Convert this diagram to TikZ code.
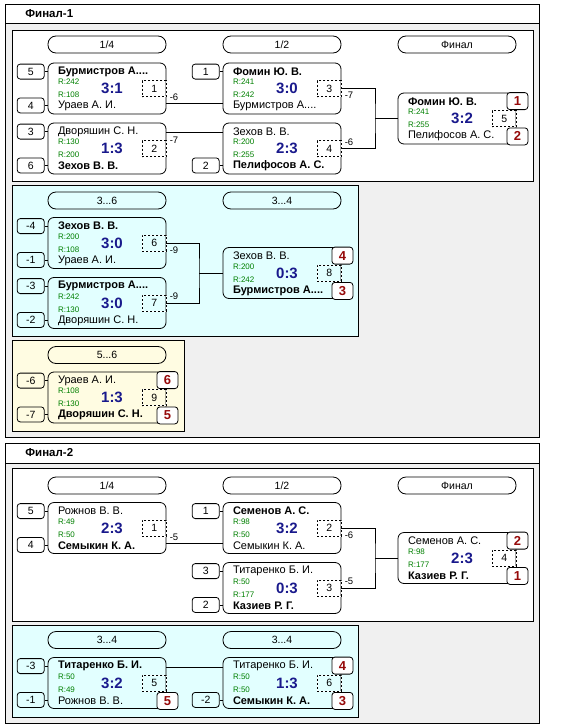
\documentclass[tikz,border=0pt]{standalone}
\usepackage{fontspec}
\setmainfont{Liberation Sans}
\usepackage{tikz}
\usetikzlibrary{positioning,calc}

\definecolor{rgreen}{RGB}{0,128,0}
\definecolor{sblue}{RGB}{25,25,140}
\definecolor{pred}{RGB}{150,10,10}
\definecolor{panelgray}{RGB}{240,240,240}
\definecolor{cyanbg}{RGB}{226,255,255}
\definecolor{yellowbg}{RGB}{255,252,226}

\begin{document}
\begin{tikzpicture}[x=1pt,y=-1pt,line width=0.8pt,every node/.style={inner sep=0pt},
	game/.style={draw,rounded corners=6pt,minimum width=118pt,minimum height=51pt},
	pill/.style={draw,rounded corners=8pt,minimum width=118pt,minimum height=17pt,font=\fontsize{10.5}{12}\selectfont},
	seed/.style={draw,rounded corners=3pt,minimum width=27pt,minimum height=15pt,font=\fontsize{10.5}{12}\selectfont},
	seedup/.style={seed,anchor=east,xshift=-3pt,yshift=-9pt},
	seeddn/.style={seed,anchor=east,xshift=-3pt,yshift=9pt},
	pup/.style={anchor=west,xshift=10pt,yshift=-9pt,font=\fontsize{11}{13}\selectfont},
	pdn/.style={anchor=west,xshift=10pt,yshift=8.5pt,font=\fontsize{11}{13}\selectfont},
	win/.style={font=\fontsize{11}{13}\selectfont\bfseries},
	rup/.style={anchor=west,xshift=10pt,yshift=-19.5pt,text=rgreen,font=\fontsize{8}{9}\selectfont},
	rdn/.style={anchor=west,xshift=10pt,yshift=19.5pt,text=rgreen,font=\fontsize{8}{9}\selectfont},
	sc/.style={xshift=5pt,text=sblue,font=\fontsize{15}{16}\selectfont\bfseries},
	num/.style={draw,dashed,dash pattern=on 2pt off 2pt,preaction={draw=white,solid},minimum width=24pt,minimum height=16pt,xshift=-12pt,font=\fontsize{10.5}{12}\selectfont},
	place/.style={draw,fill=white,rounded corners=3pt,minimum width=21pt,minimum height=17pt,text=pred,font=\fontsize{13}{14}\selectfont\bfseries},
	placeup/.style={place,xshift=1pt,yshift=-8.5pt},
	placedn/.style={place,xshift=1pt,yshift=8pt},
	loss/.style={font=\fontsize{9.5}{11}\selectfont},
	grouptitle/.style={anchor=west,font=\fontsize{11.5}{13}\selectfont\bfseries}]
	
	\fill[white] (0,0) rectangle (566,728);
	\useasboundingbox (0,0) rectangle (566,728);
	
	% Финал-1
	\draw[fill=panelgray] (5,4) rectangle (539,437);
	\draw[fill=white] (5,4) rectangle (539,23);
	\node [grouptitle] (t1) at (25,13.5) {Финал-1};
	\draw[fill=white] (12,30) rectangle (533,181);
	\draw[fill=cyanbg] (12,185) rectangle (358,336);
	\draw[fill=yellowbg] (12,340) rectangle (184,431);
	
	\node [pill] (h1) at (107,44.5) {1/4};
	\node [pill] (h2) at (282,44.5) {1/2};
	\node [pill] (h3) at (457,44.5) {Финал};
	
	\node [game] (1) at (107,88.5) {};
	\node [pup,win] (1a) at (1.north west) {Бурмистров А....};
	\node [rup] (1b) at (1.north west) {R:242};
	\node [rdn] (1c) at (1.south west) {R:108};
	\node [pdn] (1d) at (1.south west) {Ураев А. И.};
	\node [sc] (1e) at (1) {3:1};
	\node [num] (1n) at (1.east) {1};
	\node [seedup] (1s) at (1.north west) {5};
	\node [seeddn] (1t) at (1.south west) {4};
	
	\node [game] (2) at (107,148.5) {};
	\node [pup] (2a) at (2.north west) {Дворяшин С. Н.};
	\node [rup] (2b) at (2.north west) {R:130};
	\node [rdn] (2c) at (2.south west) {R:200};
	\node [pdn,win] (2d) at (2.south west) {Зехов В. В.};
	\node [sc] (2e) at (2) {1:3};
	\node [num] (2n) at (2.east) {2};
	\node [seedup] (2s) at (2.north west) {3};
	\node [seeddn] (2t) at (2.south west) {6};
	
	\node [game] (3) at (282,88.5) {};
	\node [pup,win] (3a) at (3.north west) {Фомин Ю. В.};
	\node [rup] (3b) at (3.north west) {R:241};
	\node [rdn] (3c) at (3.south west) {R:242};
	\node [pdn] (3d) at (3.south west) {Бурмистров А....};
	\node [sc] (3e) at (3) {3:0};
	\node [num] (3n) at (3.east) {3};
	\node [seedup] (3s) at (3.north west) {1};
	
	\node [game] (4) at (282,148.5) {};
	\node [pup] (4a) at (4.north west) {Зехов В. В.};
	\node [rup] (4b) at (4.north west) {R:200};
	\node [rdn] (4c) at (4.south west) {R:255};
	\node [pdn,win] (4d) at (4.south west) {Пелифосов А. С.};
	\node [sc] (4e) at (4) {2:3};
	\node [num] (4n) at (4.east) {4};
	\node [seeddn] (4t) at (4.south west) {2};
	
	\node [game] (5) at (457,118.5) {};
	\node [pup,win] (5a) at (5.north west) {Фомин Ю. В.};
	\node [rup] (5b) at (5.north west) {R:241};
	\node [rdn] (5c) at (5.south west) {R:255};
	\node [pdn] (5d) at (5.south west) {Пелифосов А. С.};
	\node [sc] (5e) at (5) {3:2};
	\node [num] (5n) at (5.east) {5};
	\node [placeup] (5u) at (5.north east) {1};
	\node [placedn] (5v) at (5.south east) {2};
	
	\draw (1s) -- (1s -| 1.west);
	\draw (1t) -- (1t -| 1.west);
	\draw (2s) -- (2s -| 2.west);
	\draw (2t) -- (2t -| 2.west);
	\draw (3s) -- (3s -| 3.west);
	\draw (4t) -- (4t -| 4.west);
	
	\draw ([yshift=11pt]1.south east) -- ([yshift=11pt]3.south west);
	\node [loss,anchor=south west] (1l) at ([xshift=3pt,yshift=13pt]1.south east) {-6};
	\draw ([yshift=-10pt]2.north east) -- ([yshift=-10pt]4.north west);
	\node [loss,anchor=north west] (2l) at ([xshift=3pt,yshift=-14pt]2.north east) {-7};
	
	\coordinate (j1) at (375,118.5);
	\draw (3.east) -| (j1) |- (4.east);
	\draw (j1) -- (5.west);
	\node [loss,anchor=north west] (3l) at ([xshift=3pt,yshift=-3pt]3.east) {-7};
	\node [loss,anchor=south west] (4l) at ([xshift=3pt,yshift=3pt]4.east) {-6};
	
	% 3...6
	\node [pill] (h4) at (107,200.5) {3...6};
	\node [pill] (h5) at (282,200.5) {3...4};
	
	\node [game] (6) at (107,243) {};
	\node [pup,win] (6a) at (6.north west) {Зехов В. В.};
	\node [rup] (6b) at (6.north west) {R:200};
	\node [rdn] (6c) at (6.south west) {R:108};
	\node [pdn] (6d) at (6.south west) {Ураев А. И.};
	\node [sc] (6e) at (6) {3:0};
	\node [num] (6n) at (6.east) {6};
	\node [seedup] (6s) at (6.north west) {-4};
	\node [seeddn] (6t) at (6.south west) {-1};
	
	\node [game] (7) at (107,303) {};
	\node [pup,win] (7a) at (7.north west) {Бурмистров А....};
	\node [rup] (7b) at (7.north west) {R:242};
	\node [rdn] (7c) at (7.south west) {R:130};
	\node [pdn] (7d) at (7.south west) {Дворяшин С. Н.};
	\node [sc] (7e) at (7) {3:0};
	\node [num] (7n) at (7.east) {7};
	\node [seedup] (7s) at (7.north west) {-3};
	\node [seeddn] (7t) at (7.south west) {-2};
	
	\node [game] (8) at (282,273) {};
	\node [pup] (8a) at (8.north west) {Зехов В. В.};
	\node [rup] (8b) at (8.north west) {R:200};
	\node [rdn] (8c) at (8.south west) {R:242};
	\node [pdn,win] (8d) at (8.south west) {Бурмистров А....};
	\node [sc] (8e) at (8) {0:3};
	\node [num] (8n) at (8.east) {8};
	\node [placeup] (8u) at (8.north east) {4};
	\node [placedn] (8v) at (8.south east) {3};
	
	\draw (6s) -- (6s -| 6.west);
	\draw (6t) -- (6t -| 6.west);
	\draw (7s) -- (7s -| 7.west);
	\draw (7t) -- (7t -| 7.west);
	
	\coordinate (j2) at (199,273);
	\draw (6.east) -| (j2) |- (7.east);
	\draw (j2) -- (8.west);
	\node [loss,anchor=north west] (6l) at ([xshift=3pt,yshift=-3pt]6.east) {-9};
	\node [loss,anchor=south west] (7l) at ([xshift=3pt,yshift=3pt]7.east) {-9};
	
	% 5...6
	\node [pill] (h6) at (107,355) {5...6};
	
	\node [game] (9) at (107,397.5) {};
	\node [pup] (9a) at (9.north west) {Ураев А. И.};
	\node [rup] (9b) at (9.north west) {R:108};
	\node [rdn] (9c) at (9.south west) {R:130};
	\node [pdn,win] (9d) at (9.south west) {Дворяшин С. Н.};
	\node [sc] (9e) at (9) {1:3};
	\node [num] (9n) at (9.east) {9};
	\node [seedup] (9s) at (9.north west) {-6};
	\node [seeddn] (9t) at (9.south west) {-7};
	\node [placeup] (9u) at (9.north east) {6};
	\node [placedn] (9v) at (9.south east) {5};
	
	\draw (9s) -- (9s -| 9.west);
	\draw (9t) -- (9t -| 9.west);
	
	% Финал-2
	\draw[fill=panelgray] (5,443) rectangle (539,723);
	\draw[fill=white] (5,443) rectangle (539,463);
	\node [grouptitle] (t2) at (25,453) {Финал-2};
	\draw[fill=white] (12,468) rectangle (533,621);
	\draw[fill=cyanbg] (12,625) rectangle (358,717);
	
	\node [pill] (h7) at (107,485.5) {1/4};
	\node [pill] (h8) at (282,485.5) {1/2};
	\node [pill] (h9) at (457,485.5) {Финал};
	
	\node [game] (10) at (107,528) {};
	\node [pup] (10a) at (10.north west) {Рожнов В. В.};
	\node [rup] (10b) at (10.north west) {R:49};
	\node [rdn] (10c) at (10.south west) {R:50};
	\node [pdn,win] (10d) at (10.south west) {Семыкин К. А.};
	\node [sc] (10e) at (10) {2:3};
	\node [num] (10n) at (10.east) {1};
	\node [seedup] (10s) at (10.north west) {5};
	\node [seeddn] (10t) at (10.south west) {4};
	
	\node [game] (11) at (282,528) {};
	\node [pup,win] (11a) at (11.north west) {Семенов А. С.};
	\node [rup] (11b) at (11.north west) {R:98};
	\node [rdn] (11c) at (11.south west) {R:50};
	\node [pdn] (11d) at (11.south west) {Семыкин К. А.};
	\node [sc] (11e) at (11) {3:2};
	\node [num] (11n) at (11.east) {2};
	\node [seedup] (11s) at (11.north west) {1};
	
	\node [game] (12) at (282,588) {};
	\node [pup] (12a) at (12.north west) {Титаренко Б. И.};
	\node [rup] (12b) at (12.north west) {R:50};
	\node [rdn] (12c) at (12.south west) {R:177};
	\node [pdn,win] (12d) at (12.south west) {Казиев Р. Г.};
	\node [sc] (12e) at (12) {0:3};
	\node [num] (12n) at (12.east) {3};
	\node [seedup] (12s) at (12.north west) {3};
	\node [seeddn] (12t) at (12.south west) {2};
	
	\node [game] (13) at (457,558) {};
	\node [pup] (13a) at (13.north west) {Семенов А. С.};
	\node [rup] (13b) at (13.north west) {R:98};
	\node [rdn] (13c) at (13.south west) {R:177};
	\node [pdn,win] (13d) at (13.south west) {Казиев Р. Г.};
	\node [sc] (13e) at (13) {2:3};
	\node [num] (13n) at (13.east) {4};
	\node [placeup] (13u) at (13.north east) {2};
	\node [placedn] (13v) at (13.south east) {1};
	
	\draw (10s) -- (10s -| 10.west);
	\draw (10t) -- (10t -| 10.west);
	\draw (11s) -- (11s -| 11.west);
	\draw (12s) -- (12s -| 12.west);
	\draw (12t) -- (12t -| 12.west);
	
	\draw ([yshift=11pt]10.south east) -- ([yshift=11pt]11.south west);
	\node [loss,anchor=south west] (10l) at ([xshift=3pt,yshift=13pt]10.south east) {-5};
	
	\coordinate (j3) at (375,558);
	\draw (11.east) -| (j3) |- (12.east);
	\draw (j3) -- (13.west);
	\node [loss,anchor=north west] (11l) at ([xshift=3pt,yshift=-3pt]11.east) {-6};
	\node [loss,anchor=south west] (12l) at ([xshift=3pt,yshift=3pt]12.east) {-5};
	
	% 3...4
	\node [pill] (h10) at (107,640) {3...4};
	\node [pill] (h11) at (282,640) {3...4};
	
	\node [game] (14) at (107,683) {};
	\node [pup,win] (14a) at (14.north west) {Титаренко Б. И.};
	\node [rup] (14b) at (14.north west) {R:50};
	\node [rdn] (14c) at (14.south west) {R:49};
	\node [pdn] (14d) at (14.south west) {Рожнов В. В.};
	\node [sc] (14e) at (14) {3:2};
	\node [num] (14n) at (14.east) {5};
	\node [seedup] (14s) at (14.north west) {-3};
	\node [seeddn] (14t) at (14.south west) {-1};
	\node [placedn] (14v) at (14.south east) {5};
	
	\node [game] (15) at (282,683) {};
	\node [pup] (15a) at (15.north west) {Титаренко Б. И.};
	\node [rup] (15b) at (15.north west) {R:50};
	\node [rdn] (15c) at (15.south west) {R:50};
	\node [pdn,win] (15d) at (15.south west) {Семыкин К. А.};
	\node [sc] (15e) at (15) {1:3};
	\node [num] (15n) at (15.east) {6};
	\node [seeddn] (15t) at (15.south west) {-2};
	\node [placeup] (15u) at (15.north east) {4};
	\node [placedn] (15v) at (15.south east) {3};
	
	\draw (14s) -- (14s -| 14.west);
	\draw (14t) -- (14t -| 14.west);
	\draw (15t) -- (15t -| 15.west);
	\draw ([yshift=-10pt]14.north east) -- ([yshift=-10pt]15.north west);
\end{tikzpicture}
\end{document}
